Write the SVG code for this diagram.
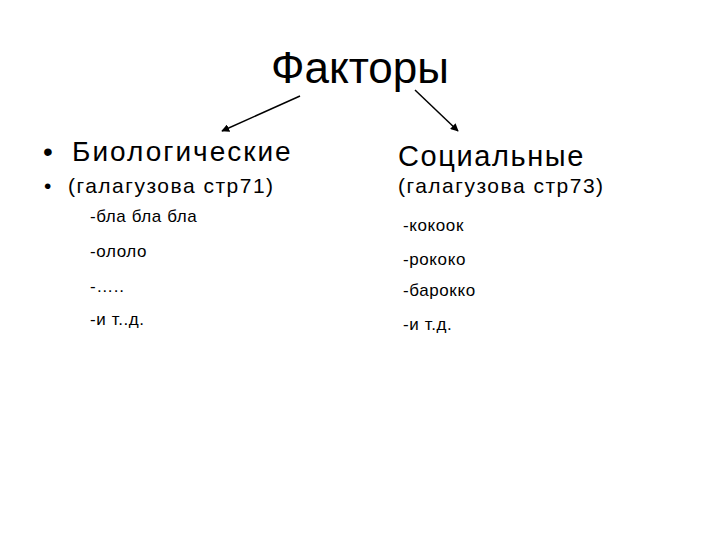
<svg xmlns="http://www.w3.org/2000/svg" width="720" height="540" viewBox="0 0 720 540">
<style>
text{font-family:"Liberation Sans",Arial,sans-serif;fill:#000}
.t{font-size:44px}
.h{font-size:28px;letter-spacing:2px}
.s{font-size:21px;letter-spacing:1.5px}
.i{font-size:17px;letter-spacing:0.6px}
.c{stroke:#000;stroke-width:1.5;fill:none}
</style>
<defs>
<marker id="a" viewBox="0 0 10 10" refX="9" refY="5" markerWidth="8" markerHeight="8" markerUnits="userSpaceOnUse" orient="auto"><path d="M0,0L10,5L0,10z" fill="#000"/></marker>
</defs>
<rect width="720" height="540" fill="#fff"/>
<g id="title"><text class="t" x="360" y="83" text-anchor="middle">Факторы</text></g>
<g id="connectors">
<line class="c" x1="300" y1="96" x2="222" y2="131" marker-end="url(#a)"/>
<line class="c" x1="415" y1="90" x2="458" y2="131" marker-end="url(#a)"/>
</g>
<g id="bio">
<text class="h" x="43" y="161" style="letter-spacing:0">•</text>
<text class="h" x="72" y="161">Биологические</text>
<text class="s" x="44" y="193" style="letter-spacing:0">•</text>
<text class="s" x="68" y="193">(галагузова стр71)</text>
<text class="i" x="90" y="222">-бла бла бла</text>
<text class="i" x="90" y="257">-ололо</text>
<text class="i" x="90" y="292">-…..</text>
<text class="i" x="90" y="325">-и т..д.</text>
</g>
<g id="soc">
<text class="h" x="398" y="166" style="font-size:29px;letter-spacing:1.6px">Социальные</text>
<text class="s" x="398" y="193">(галагузова стр73)</text>
<text class="i" x="403" y="231">-кокоок</text>
<text class="i" x="403" y="265">-рококо</text>
<text class="i" x="403" y="296">-барокко</text>
<text class="i" x="403" y="330">-и т.д.</text>
</g>
</svg>
